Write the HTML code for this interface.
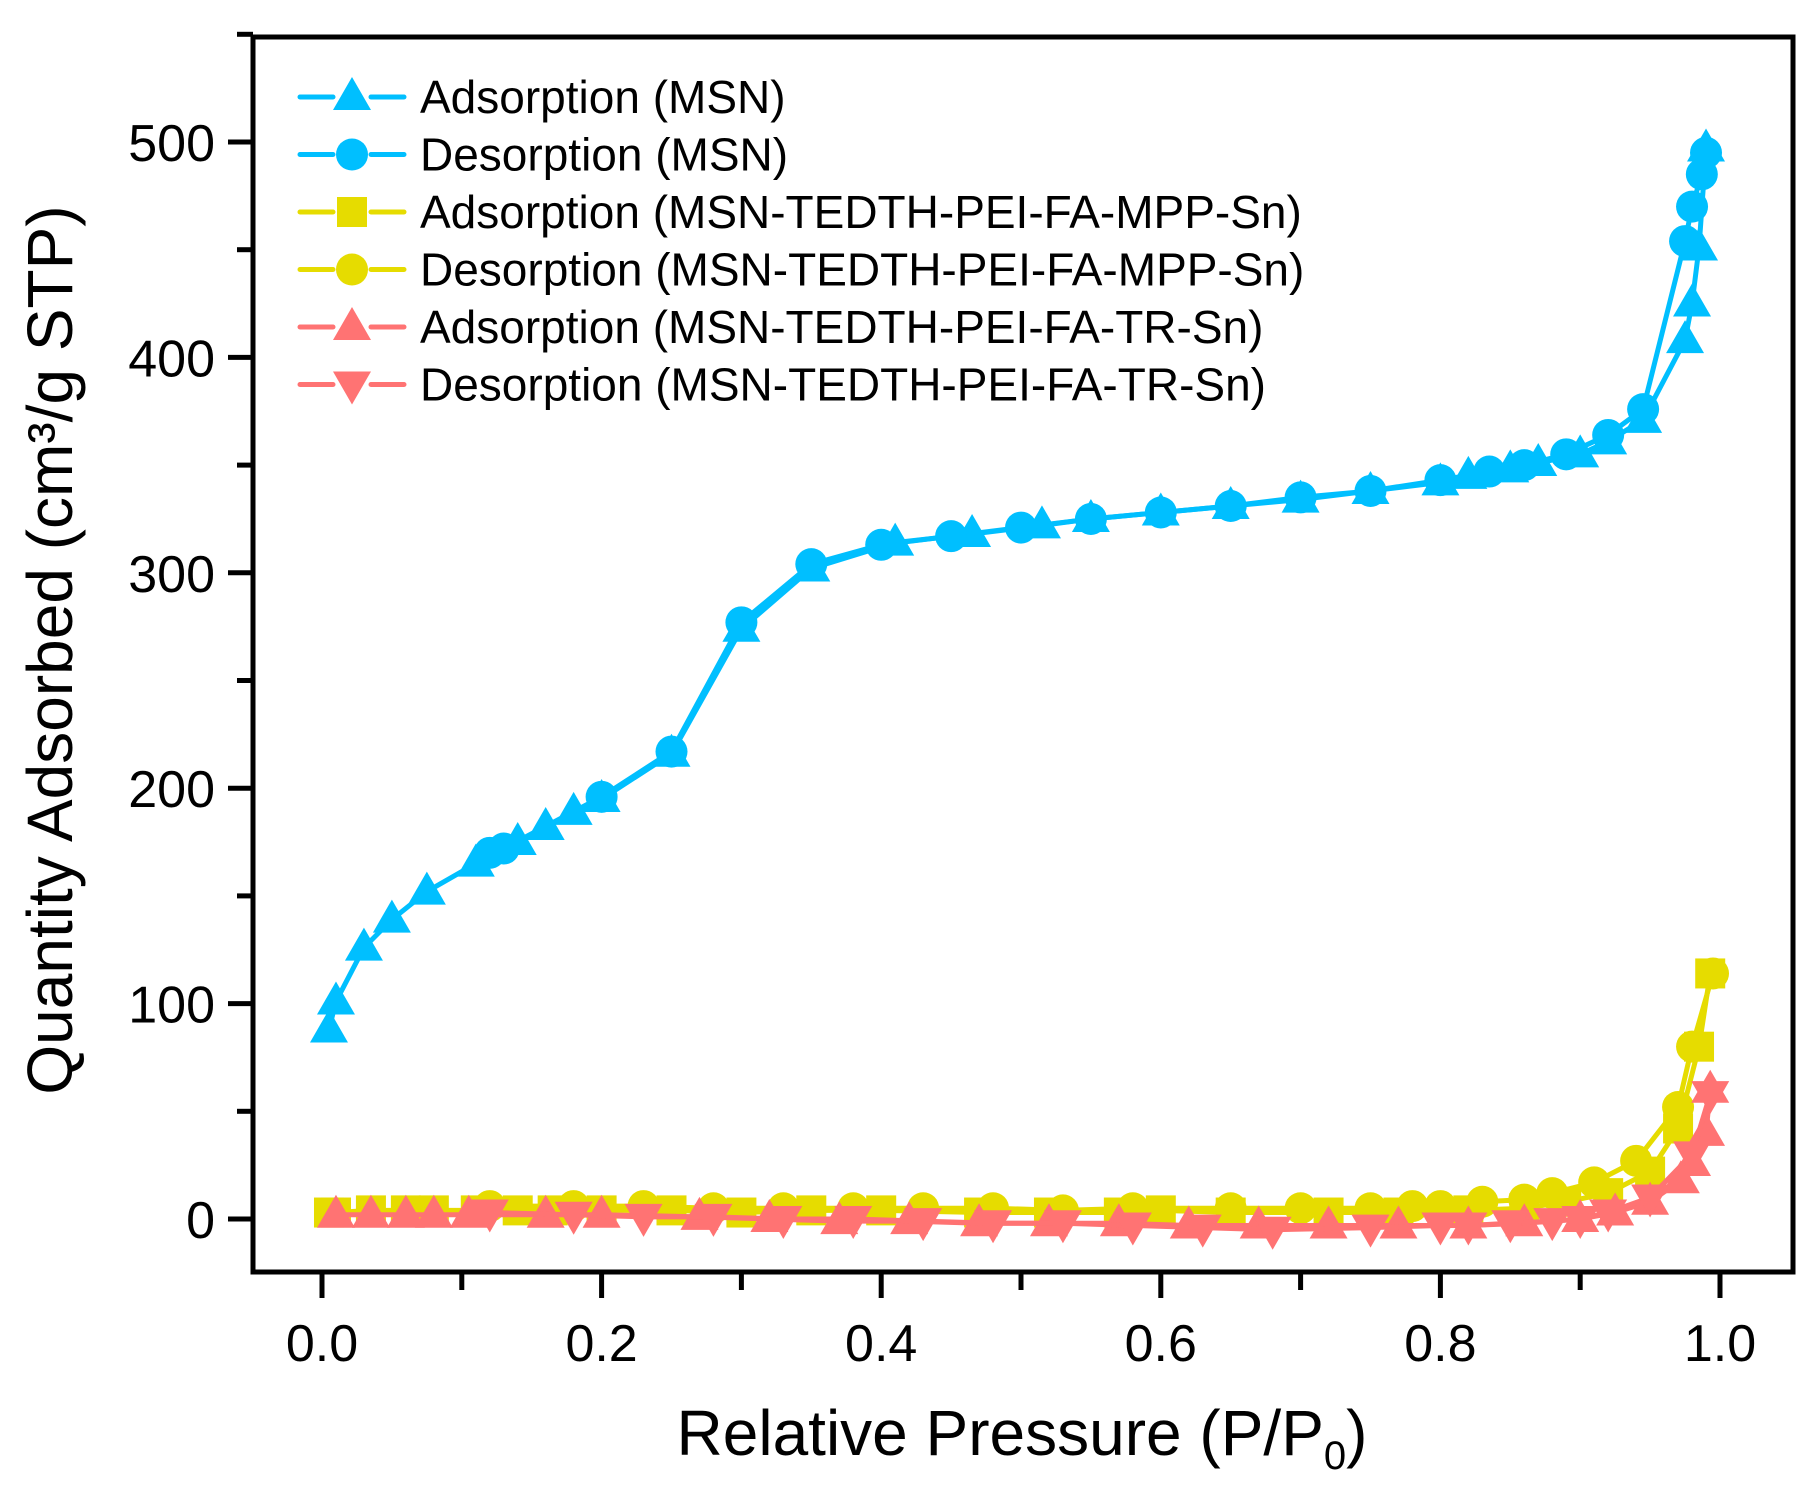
<!DOCTYPE html>
<html><head><meta charset="utf-8"><style>
html,body{margin:0;padding:0;background:#fff;}
svg{display:block;font-family:"Liberation Sans",Arial,sans-serif;}
</style></head><body>
<svg id="s" width="1820" height="1490" viewBox="0 0 1820 1490" xmlns="http://www.w3.org/2000/svg">
<rect x="0" y="0" width="1820" height="1490" fill="#fff"/>
<g id="data"></g>
<rect x="253" y="37" width="1540" height="1235" fill="none" stroke="#000" stroke-width="5"/>
<g id="ticks" stroke="#000" stroke-width="5"></g>
<g font-size="52" fill="#000" id="labels"></g>
<text x="1022" y="1455" font-size="64" text-anchor="middle">Relative Pressure (P/P<tspan font-size="40" dy="14">0</tspan><tspan dy="-14">)</tspan></text>
<text transform="translate(72,650) rotate(-90)" font-size="64" text-anchor="middle">Quantity Adsorbed (cm³/g STP)</text>
<g id="legend" font-size="46"></g>
</svg>
<script>
const NS="http://www.w3.org/2000/svg";
const X=v=>322+v*1398, Y=v=>1219-v*2.154;
function el(p,t,a,txt){const e=document.createElementNS(NS,t);for(const k in a)e.setAttribute(k,a[k]);if(txt!==undefined)e.textContent=txt;p.appendChild(e);return e;}
const tk=document.getElementById('ticks'),lb=document.getElementById('labels');
for(let i=0;i<=10;i++){const x=X(i/10);el(tk,'line',{x1:x,y1:1272,x2:x,y2:i%2?1290:1298});}
for(let i=0;i<=5;i++){const x=X(i/5);el(lb,'text',{x:x,y:1361,'text-anchor':'middle'},(i/5).toFixed(1));}
for(let v=0;v<=550;v+=50){const y=Y(v);el(tk,'line',{x1:253,y1:y,x2:v%100?237:228,y2:y});if(v%100==0)el(lb,'text',{x:215,y:y+19,'text-anchor':'end'},v);}
const B="#00BFFF",YE="#E6DC00",R="#FF7373";
function marker(g,type,x,y,c){
 if(type=='tu')el(g,'polygon',{points:`${x},${y-20} ${x-19},${y+13} ${x+19},${y+13}`,fill:c});
 else if(type=='td')el(g,'polygon',{points:`${x},${y+20} ${x-19},${y-13} ${x+19},${y-13}`,fill:c});
 else if(type=='c')el(g,'circle',{cx:x,cy:y,r:16,fill:c});
 else if(type=='s')el(g,'rect',{x:x-15,y:y-15,width:30,height:30,fill:c});
}
const series=[
 [YE,'s',[[0.005,3],[0.01,3],[0.035,4],[0.06,4],[0.08,4],[0.11,4],[0.14,4],[0.165,4],[0.2,4],[0.25,4],[0.3,3],[0.35,4],[0.4,4],[0.47,3],[0.52,3],[0.57,3],[0.6,4],[0.65,3],[0.72,3],[0.77,3],[0.82,4],[0.86,5],[0.89,8],[0.92,12],[0.95,22],[0.97,42],[0.985,80],[0.993,114]]],
 [YE,'c',[[0.995,114],[0.98,80],[0.97,52],[0.94,27],[0.91,17],[0.88,12],[0.86,9],[0.83,8],[0.8,6],[0.78,6],[0.75,5],[0.7,5],[0.65,5],[0.58,5],[0.53,4],[0.48,5],[0.43,5],[0.38,5],[0.33,5],[0.28,5],[0.23,6],[0.18,6],[0.12,6]]],
 [R,'tu',[[0.01,2],[0.035,2],[0.06,2],[0.08,2],[0.105,2],[0.16,2],[0.2,2],[0.27,1],[0.32,0],[0.37,-1],[0.42,-1],[0.47,-2],[0.52,-2],[0.57,-2],[0.62,-3],[0.67,-3],[0.72,-3],[0.77,-3],[0.82,-3],[0.86,-2],[0.9,0],[0.925,3],[0.95,8],[0.972,18],[0.98,26],[0.99,40],[0.993,60]]],
 [R,'td',[[0.993,58],[0.98,30],[0.95,10],[0.92,3],[0.9,0],[0.88,-1],[0.85,-2],[0.82,-3],[0.8,-3],[0.75,-4],[0.68,-5],[0.63,-4],[0.58,-3],[0.53,-2],[0.48,-2],[0.43,-1],[0.38,0],[0.33,0],[0.28,1],[0.23,1],[0.18,2],[0.12,3]]],
 [B,'tu',[[0.005,88],[0.01,101],[0.03,126],[0.05,139],[0.075,152],[0.11,165],[0.14,175],[0.16,182],[0.18,189],[0.2,195],[0.25,216],[0.3,274],[0.35,302],[0.41,314],[0.465,318],[0.515,322],[0.55,325],[0.6,328],[0.65,331],[0.7,334],[0.75,338],[0.8,342],[0.82,345],[0.85,348],[0.87,351],[0.9,355],[0.92,361],[0.945,371],[0.975,408],[0.98,425],[0.985,451],[0.99,497]]],
 [B,'c',[[0.99,495],[0.987,485],[0.98,470],[0.975,454],[0.945,376],[0.92,364],[0.89,355],[0.86,350],[0.835,347],[0.8,343],[0.75,338],[0.7,335],[0.65,331],[0.6,328],[0.55,325],[0.5,321],[0.45,317],[0.4,313],[0.35,304],[0.3,277],[0.25,217],[0.2,196],[0.13,172],[0.12,170]]]
];
const dg=document.getElementById('data');
for(const [c,t,pts] of series){
 el(dg,'polyline',{points:pts.map(p=>X(p[0])+','+Y(p[1])).join(' '),fill:'none',stroke:c,'stroke-width':5,'stroke-linejoin':'round'});
 for(const p of pts)marker(dg,t,X(p[0]),Y(p[1]),c);
}
const lg=document.getElementById('legend');
const L=[[B,'tu','Adsorption (MSN)'],[B,'c','Desorption (MSN)'],[YE,'s','Adsorption (MSN-TEDTH-PEI-FA-MPP-Sn)'],[YE,'c','Desorption (MSN-TEDTH-PEI-FA-MPP-Sn)'],[R,'tu','Adsorption (MSN-TEDTH-PEI-FA-TR-Sn)'],[R,'td','Desorption (MSN-TEDTH-PEI-FA-TR-Sn)']];
L.forEach((l,i)=>{const y=97+i*57.5;
 el(lg,'line',{x1:300,y1:y,x2:333,y2:y,stroke:l[0],'stroke-width':5,'stroke-linecap':'round'});
 el(lg,'line',{x1:371,y1:y,x2:404,y2:y,stroke:l[0],'stroke-width':5,'stroke-linecap':'round'});
 marker(lg,l[1],352,y,l[0]);
 el(lg,'text',{x:420,y:y+16,fill:'#000'},l[2]);
});
</script>
</body></html>
